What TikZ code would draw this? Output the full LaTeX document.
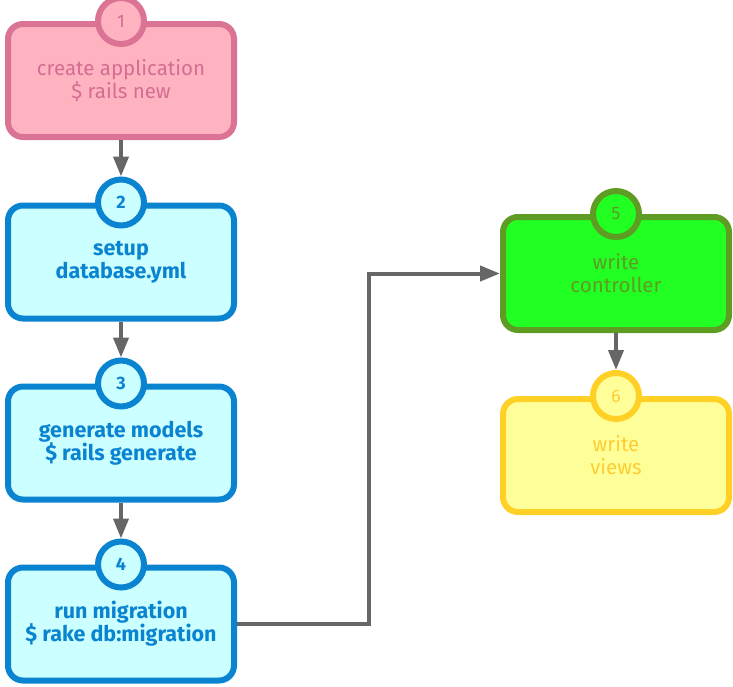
\documentclass[tikz,border=0pt]{standalone}
\usepackage{fontspec}
\setmainfont{Fira Sans}
\usetikzlibrary{arrows.meta,calc}
\definecolor{pinkfill}{HTML}{FFB3C1}
\definecolor{pinkline}{HTML}{DB7395}
\definecolor{pinktext}{HTML}{D56C92}
\definecolor{bluefill}{HTML}{CCFFFF}
\definecolor{blueline}{HTML}{0A84D0}
\definecolor{greenfill}{HTML}{22FF22}
\definecolor{greenline}{HTML}{5E9C24}
\definecolor{yellowfill}{HTML}{FFFF99}
\definecolor{yellowline}{HTML}{FFD126}
\definecolor{yellowtext}{HTML}{FFCC33}
\definecolor{arrowgray}{HTML}{666666}
\tikzset{
  stepbox/.style={draw, rounded corners=15pt, line width=6pt, minimum width=226pt,
    minimum height=113pt, align=center, font=\fontsize{20.5}{23}\selectfont},
  boldstep/.style={font=\fontsize{21.5}{23}\selectfont\bfseries},
  num/.style={draw, circle, line width=6pt, minimum size=46pt, inner sep=0pt,
    font=\fontsize{18}{20}\selectfont},
  boldnum/.style={font=\fontsize{18}{20}\selectfont\bfseries},
  arr/.style={draw=arrowgray, line width=4pt, -{Triangle[length=20pt,width=15pt]}},
  pinkstep/.style={fill=pinkfill, draw=pinkline, text=pinktext},
  bluestep/.style={fill=bluefill, draw=blueline, text=blueline},
  greenstep/.style={fill=greenfill, draw=greenline, text=greenline},
  yellowstep/.style={fill=yellowfill, draw=yellowline, text=yellowtext}
}
\begin{document}
\begin{tikzpicture}[x=1pt,y=-1pt]
\useasboundingbox (0,0) rectangle (733,686);

\node[stepbox,pinkstep] (create) at (121,80.5) {create application\\\$ rails new};
\node[stepbox,bluestep,boldstep] (setup) at (121,262) {setup\\database.yml};
\node[stepbox,bluestep,boldstep] (models) at (121,443) {generate models\\\$ rails generate};
\node[stepbox,bluestep,boldstep] (migrate) at (121,624) {run migration\\\$ rake db:migration};
\node[stepbox,greenstep] (controller) at (616,273.5) {write\\controller};
\node[stepbox,yellowstep] (views) at (616,455.5) {write\\views};

\node[num,pinkstep] (n1) at (create.north) {1};
\node[num,bluestep,boldnum] (n2) at (setup.north) {2};
\node[num,bluestep,boldnum] (n3) at (models.north) {3};
\node[num,bluestep,boldnum] (n4) at (migrate.north) {4};
\node[num,greenstep] (n5) at (controller.north) {5};
\node[num,yellowstep] (n6) at (views.north) {6};

\draw[arr] (create.south) -- (n2.north);
\draw[arr] (setup.south) -- (n3.north);
\draw[arr] (models.south) -- (n4.north);
\coordinate (turn) at ($(migrate.east)!.5!(controller.west)$);
\draw[arr] (migrate.east) -| (turn) |- (controller.west);
\draw[arr] (controller.south) -- (n6.north);
\end{tikzpicture}
\end{document}
